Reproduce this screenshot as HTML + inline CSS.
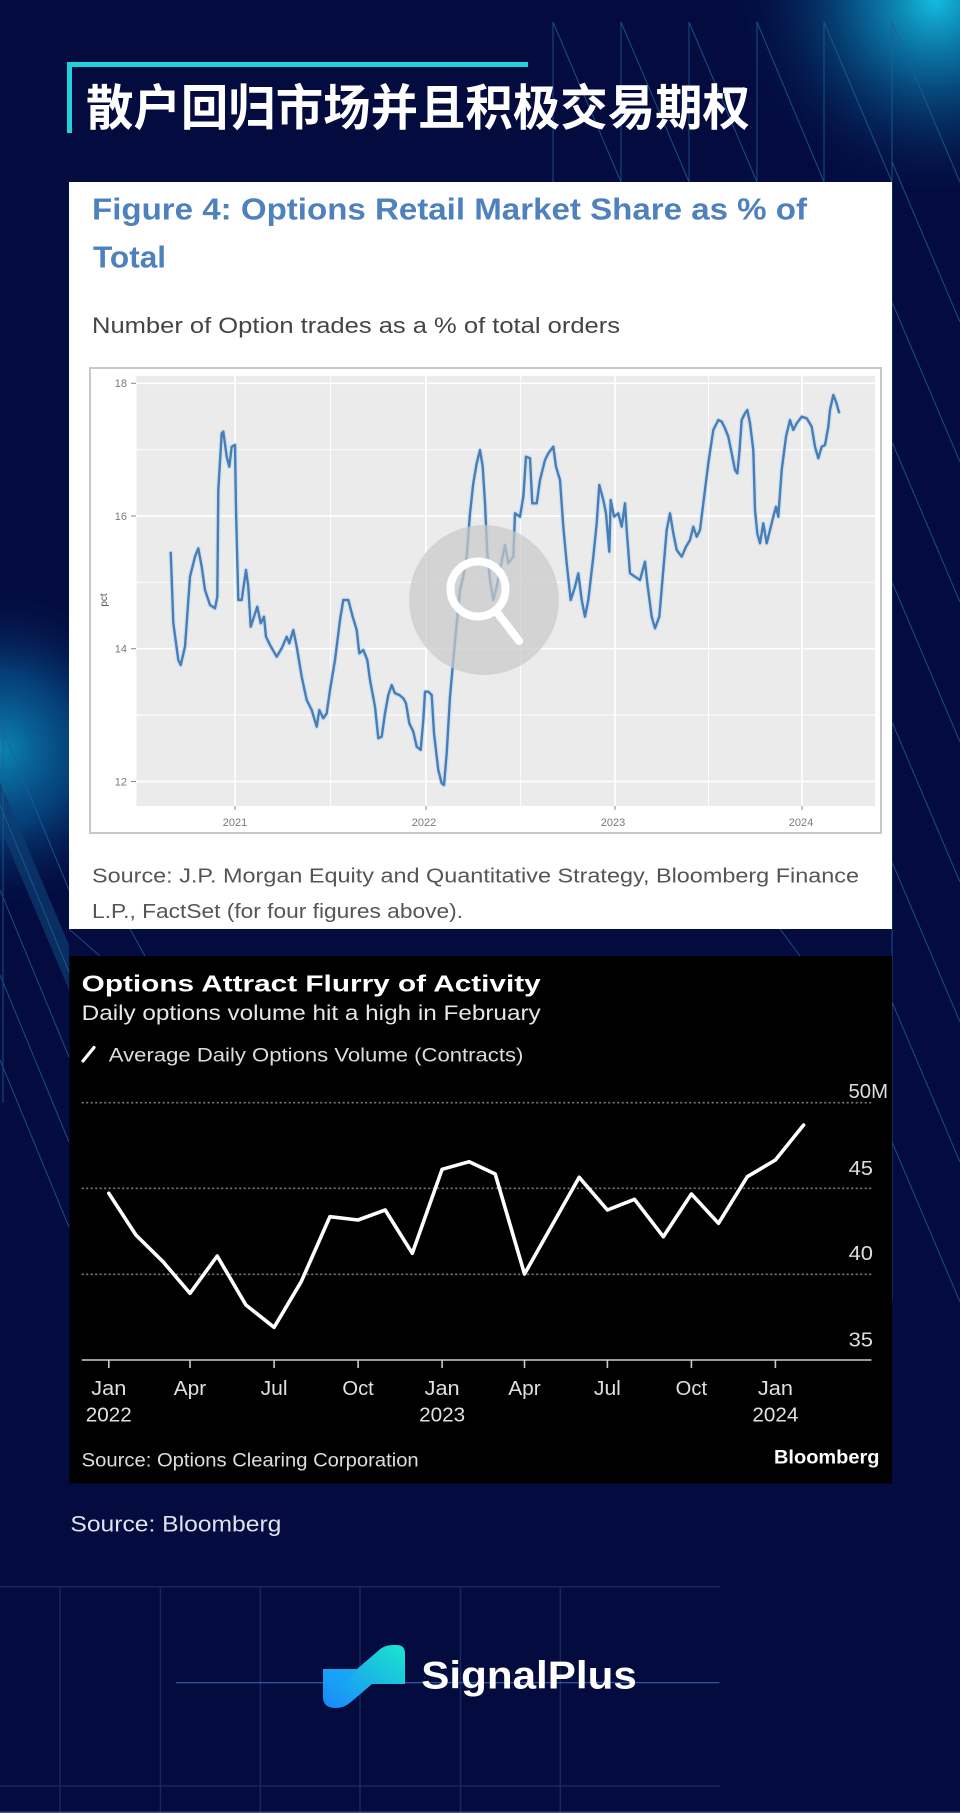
<!DOCTYPE html>
<html><head><meta charset="utf-8">
<style>
html,body{margin:0;padding:0;background:#030b3f;}
svg{display:block;}
</style></head>
<body>
<svg width="960" height="1813" viewBox="0 0 960 1813" xmlns="http://www.w3.org/2000/svg">
<defs>
<radialGradient id="gTR" cx="935" cy="0" r="210" gradientUnits="userSpaceOnUse">
<stop offset="0" stop-color="#14bde0" stop-opacity="1"/>
<stop offset="0.35" stop-color="#0a78aa" stop-opacity="0.75"/>
<stop offset="1" stop-color="#030b3f" stop-opacity="0"/>
</radialGradient>
<radialGradient id="gL" cx="0" cy="750" r="170" gradientUnits="userSpaceOnUse">
<stop offset="0" stop-color="#0b86b4" stop-opacity="1"/>
<stop offset="0.45" stop-color="#075490" stop-opacity="0.7"/>
<stop offset="1" stop-color="#030b3f" stop-opacity="0"/>
</radialGradient>
<linearGradient id="gLogo" x1="0" y1="1" x2="1" y2="0">
<stop offset="0" stop-color="#1a86ff"/>
<stop offset="1" stop-color="#1ae6cc"/>
</linearGradient>
</defs>

<!-- background -->
<rect x="0" y="0" width="960" height="1813" fill="#030b3f"/>
<rect x="0" y="0" width="960" height="420" fill="url(#gTR)"/>
<rect x="0" y="565" width="200" height="380" fill="url(#gL)"/>

<!-- decorative lines top -->
<g stroke="#1f5f96" stroke-width="1" opacity="0.8" fill="none">
<line x1="553" y1="22" x2="553" y2="182"/>
<line x1="621" y1="22" x2="621" y2="182"/>
<line x1="689" y1="22" x2="689" y2="182"/>
<line x1="757" y1="22" x2="757" y2="182"/>
<line x1="824" y1="22" x2="824" y2="182"/>
<line x1="892" y1="22" x2="892" y2="1300"/>
<line x1="553" y1="22" x2="621" y2="182"/>
<line x1="621" y1="22" x2="689" y2="182"/>
<line x1="689" y1="22" x2="757" y2="182"/>
<line x1="757" y1="22" x2="824" y2="182"/>
<line x1="824" y1="22" x2="892" y2="182"/>
<line x1="892" y1="22" x2="960" y2="182"/>
<line x1="892" y1="162" x2="960" y2="322"/>
<line x1="892" y1="302" x2="960" y2="462"/>
<line x1="892" y1="442" x2="960" y2="602"/>
<line x1="892" y1="582" x2="960" y2="742"/>
<line x1="892" y1="722" x2="960" y2="882"/>
<line x1="892" y1="862" x2="960" y2="1022"/>
<line x1="892" y1="1002" x2="960" y2="1162"/>
<line x1="892" y1="1142" x2="960" y2="1302"/>
</g>
<!-- decorative left -->
<polygon points="0,782 69,945 69,990 0,827" fill="#0d3d70" opacity="0.7"/>
<g stroke="#1f5f96" stroke-width="1" opacity="0.8" fill="none">
<line x1="3" y1="723" x2="3" y2="1103"/>
<line x1="0" y1="723" x2="69" y2="890"/>
<line x1="0" y1="805" x2="69" y2="972"/>
<line x1="0" y1="890" x2="69" y2="1057"/>
<line x1="0" y1="975" x2="69" y2="1142"/>
<line x1="0" y1="1060" x2="69" y2="1227"/>
<line x1="69" y1="929" x2="100" y2="956"/>
<line x1="130" y1="929" x2="145" y2="956"/>
<line x1="780" y1="929" x2="800" y2="956"/>
</g>

<!-- title -->
<rect x="67" y="62" width="461" height="5" fill="#22d2da"/>
<rect x="67" y="62" width="5" height="71" fill="#22d2da"/>
<text x="86" y="125" font-family="'Liberation Sans','Noto Sans CJK SC',sans-serif" font-size="49" font-weight="bold" fill="#ffffff" textLength="664" lengthAdjust="spacingAndGlyphs">散户回归市场并且积极交易期权</text>

<!-- white panel 1 -->
<rect x="69" y="182" width="823" height="747" fill="#ffffff"/>
<text x="92" y="219.5" font-family="'Liberation Sans',sans-serif" font-size="31" font-weight="bold" fill="#4f81bd" textLength="715" lengthAdjust="spacingAndGlyphs">Figure 4: Options Retail Market Share as % of</text>
<text x="93" y="267.5" font-family="'Liberation Sans',sans-serif" font-size="31" font-weight="bold" fill="#4f81bd" textLength="73" lengthAdjust="spacingAndGlyphs">Total</text>
<text x="92" y="333" font-family="'Liberation Sans',sans-serif" font-size="22.5" fill="#444444" textLength="528" lengthAdjust="spacingAndGlyphs">Number of Option trades as a % of total orders</text>

<!-- chart 1 -->
<rect x="90" y="368" width="791" height="465" fill="#ffffff" stroke="#c8c8c8" stroke-width="2"/>
<rect x="136.5" y="376" width="738.5" height="430" fill="#ebebeb"/>
<g stroke="#ffffff" fill="none">
<line x1="136.5" y1="449.7" x2="875" y2="449.7" stroke-width="0.9"/>
<line x1="136.5" y1="582.3" x2="875" y2="582.3" stroke-width="0.9"/>
<line x1="136.5" y1="715" x2="875" y2="715" stroke-width="0.9"/>
<line x1="330.5" y1="376" x2="330.5" y2="806" stroke-width="0.9"/>
<line x1="520.5" y1="376" x2="520.5" y2="806" stroke-width="0.9"/>
<line x1="708.5" y1="376" x2="708.5" y2="806" stroke-width="0.9"/>
<line x1="136.5" y1="383.3" x2="875" y2="383.3" stroke-width="1.7"/>
<line x1="136.5" y1="516" x2="875" y2="516" stroke-width="1.7"/>
<line x1="136.5" y1="648.7" x2="875" y2="648.7" stroke-width="1.7"/>
<line x1="136.5" y1="781.5" x2="875" y2="781.5" stroke-width="1.7"/>
<line x1="235" y1="376" x2="235" y2="806" stroke-width="1.7"/>
<line x1="426" y1="376" x2="426" y2="806" stroke-width="1.7"/>
<line x1="615" y1="376" x2="615" y2="806" stroke-width="1.7"/>
<line x1="802" y1="376" x2="802" y2="806" stroke-width="1.7"/>
</g>
<g stroke="#888" stroke-width="1">
<line x1="131" y1="383.3" x2="136" y2="383.3"/>
<line x1="131" y1="516" x2="136" y2="516"/>
<line x1="131" y1="648.7" x2="136" y2="648.7"/>
<line x1="131" y1="781.5" x2="136" y2="781.5"/>
<line x1="235" y1="806" x2="235" y2="810"/>
<line x1="426" y1="806" x2="426" y2="810"/>
<line x1="615" y1="806" x2="615" y2="810"/>
<line x1="802" y1="806" x2="802" y2="810"/>
</g>
<g font-family="'Liberation Sans',sans-serif" font-size="11" fill="#7a7a7a">
<text x="127" y="387" text-anchor="end">18</text>
<text x="127" y="520" text-anchor="end">16</text>
<text x="127" y="652.5" text-anchor="end">14</text>
<text x="127" y="785.5" text-anchor="end">12</text>
<text x="235" y="826" text-anchor="middle">2021</text>
<text x="424" y="826" text-anchor="middle">2022</text>
<text x="613" y="826" text-anchor="middle">2023</text>
<text x="801" y="826" text-anchor="middle">2024</text>
<text x="107" y="600" text-anchor="middle" font-size="10" fill="#555" transform="rotate(-90 107 600)">pct</text>
</g>
<polyline fill="none" stroke="#c5def4" stroke-width="5" stroke-linejoin="round" opacity="0.7" points="170.7,551.7 173.3,623 178.3,660 180.7,665 185,646.7 190,576.7 195,556.7 198.3,548.3 201.7,566.7 205,590 210,605 215,608.3 217.3,596.7 218.3,490 221.7,433.3 223.3,431.7 226.7,456.7 229.3,466.7 231.7,446.7 235,445 236,510 238.3,600 241.7,600 246,570 248.3,586.7 250.7,626.7 254,616.7 257.3,606.7 260.7,623.3 264,616.7 266,636.7 270,645 276.7,656.7 281.7,648.3 286.7,636.7 289.3,643.3 293.3,630 296.7,646.7 301.7,676.7 306.7,700 311.7,710 316.7,726.7 319.3,710 323.3,718.3 326.7,713.3 330,690 335,660 340,620 343.3,600 348.3,600 352.7,616.7 356.7,630 359.3,653.3 363.3,650 367.3,660 370,680 375,706.7 378.3,738.3 381.7,736.7 385,713.3 388.3,695 391.7,685 395,693.3 399.3,695 403.3,698.3 406,703.3 409.3,723.3 413.3,731.7 416.7,746.7 420.7,750 423.3,720 425,691.7 428.3,691.7 431.7,695 434,733.3 438.3,770 441.7,783.3 444,785 446.7,753.3 450,696.7 453.3,660 456.7,623.3 460,590 463.3,576.7 466.7,556.7 470,513.3 473.3,483.3 476.7,463.3 480,450 482.7,466.7 485,503.3 487.3,553.3 490,580 493.3,600 496.7,586.7 500,570 505,545 508.3,563.3 513.3,556.7 515,513.3 520,516.7 523.3,496.7 526,456.7 530,458.3 532.3,503.3 536.7,503.3 540,480 545,460 548.3,453.3 553.3,446.7 556,466.7 560,480 563.3,526.7 566.7,563.3 570.7,600 575,586.7 578.3,573.3 581.7,600 585,616.7 588.3,600 593.3,556.7 596.7,523.3 599.3,485 603.3,500 606,513.3 609.3,551.7 610.7,500 614,516.7 618.3,513.3 621.7,526.7 625,503.3 626.7,530 630,573.3 635,576.7 640,580 645,561.7 647.3,583.3 651.7,616.7 655,628.3 659.3,616.7 663.3,570 666.7,530 670,513.3 673.3,533.3 676.7,550 681.7,556.7 686,546.7 690,540 693.3,526.7 696.7,536.7 700,530 703.3,503.3 708.3,463.3 713.3,430 718.3,420 721.7,421.7 725,428.3 728.3,436.7 731.7,453.3 735,470 737.3,473.3 739.3,453.3 741.7,420 745,413.3 747.3,410 750,423.3 753.3,450 755,510 757.3,533.3 760,543.3 763.3,523.3 766.7,543.3 770,530 773.3,516.7 776,506.7 778.3,516.7 781.7,470 786,436.7 790,420 793.3,430 796.7,423.3 801.7,416.7 806.7,418.3 811.7,426.7 815,446.7 818.3,458.3 821.7,446.7 825,445 828.3,426.7 830,410 833.3,395 836,401.7 839.3,413.3"/>
<polyline fill="none" stroke="#4a7db3" stroke-width="2.4" stroke-linejoin="round" points="170.7,551.7 173.3,623 178.3,660 180.7,665 185,646.7 190,576.7 195,556.7 198.3,548.3 201.7,566.7 205,590 210,605 215,608.3 217.3,596.7 218.3,490 221.7,433.3 223.3,431.7 226.7,456.7 229.3,466.7 231.7,446.7 235,445 236,510 238.3,600 241.7,600 246,570 248.3,586.7 250.7,626.7 254,616.7 257.3,606.7 260.7,623.3 264,616.7 266,636.7 270,645 276.7,656.7 281.7,648.3 286.7,636.7 289.3,643.3 293.3,630 296.7,646.7 301.7,676.7 306.7,700 311.7,710 316.7,726.7 319.3,710 323.3,718.3 326.7,713.3 330,690 335,660 340,620 343.3,600 348.3,600 352.7,616.7 356.7,630 359.3,653.3 363.3,650 367.3,660 370,680 375,706.7 378.3,738.3 381.7,736.7 385,713.3 388.3,695 391.7,685 395,693.3 399.3,695 403.3,698.3 406,703.3 409.3,723.3 413.3,731.7 416.7,746.7 420.7,750 423.3,720 425,691.7 428.3,691.7 431.7,695 434,733.3 438.3,770 441.7,783.3 444,785 446.7,753.3 450,696.7 453.3,660 456.7,623.3 460,590 463.3,576.7 466.7,556.7 470,513.3 473.3,483.3 476.7,463.3 480,450 482.7,466.7 485,503.3 487.3,553.3 490,580 493.3,600 496.7,586.7 500,570 505,545 508.3,563.3 513.3,556.7 515,513.3 520,516.7 523.3,496.7 526,456.7 530,458.3 532.3,503.3 536.7,503.3 540,480 545,460 548.3,453.3 553.3,446.7 556,466.7 560,480 563.3,526.7 566.7,563.3 570.7,600 575,586.7 578.3,573.3 581.7,600 585,616.7 588.3,600 593.3,556.7 596.7,523.3 599.3,485 603.3,500 606,513.3 609.3,551.7 610.7,500 614,516.7 618.3,513.3 621.7,526.7 625,503.3 626.7,530 630,573.3 635,576.7 640,580 645,561.7 647.3,583.3 651.7,616.7 655,628.3 659.3,616.7 663.3,570 666.7,530 670,513.3 673.3,533.3 676.7,550 681.7,556.7 686,546.7 690,540 693.3,526.7 696.7,536.7 700,530 703.3,503.3 708.3,463.3 713.3,430 718.3,420 721.7,421.7 725,428.3 728.3,436.7 731.7,453.3 735,470 737.3,473.3 739.3,453.3 741.7,420 745,413.3 747.3,410 750,423.3 753.3,450 755,510 757.3,533.3 760,543.3 763.3,523.3 766.7,543.3 770,530 773.3,516.7 776,506.7 778.3,516.7 781.7,470 786,436.7 790,420 793.3,430 796.7,423.3 801.7,416.7 806.7,418.3 811.7,426.7 815,446.7 818.3,458.3 821.7,446.7 825,445 828.3,426.7 830,410 833.3,395 836,401.7 839.3,413.3"/>
<!-- magnifier overlay -->
<circle cx="484" cy="600" r="75" fill="#c9c9c9" opacity="0.72"/>
<circle cx="478" cy="589" r="27.5" fill="none" stroke="#ffffff" stroke-width="8"/>
<line x1="496" y1="611" x2="519" y2="641" stroke="#ffffff" stroke-width="8" stroke-linecap="round"/>

<text x="92" y="882.5" font-family="'Liberation Sans',sans-serif" font-size="20" fill="#555555" textLength="767" lengthAdjust="spacingAndGlyphs">Source: J.P. Morgan Equity and Quantitative Strategy, Bloomberg Finance</text>
<text x="92" y="918" font-family="'Liberation Sans',sans-serif" font-size="20" fill="#555555" textLength="371" lengthAdjust="spacingAndGlyphs">L.P., FactSet (for four figures above).</text>

<!-- Bloomberg chart -->
<rect x="69.5" y="956" width="822.5" height="527.5" fill="#000000"/>
<g font-family="'Liberation Sans Narrow','Liberation Sans',sans-serif">
<text x="81.7" y="991.5" font-size="23" font-weight="bold" fill="#ffffff" textLength="459" lengthAdjust="spacingAndGlyphs">Options Attract Flurry of Activity</text>
<text x="81.7" y="1020" font-size="21" fill="#e6e6e6" textLength="459" lengthAdjust="spacingAndGlyphs">Daily options volume hit a high in February</text>
<line x1="83" y1="1061" x2="94" y2="1047.5" stroke="#ffffff" stroke-width="3.2" stroke-linecap="round"/>
<text x="108.8" y="1061.5" font-size="19.5" fill="#dddddd" textLength="414.6" lengthAdjust="spacingAndGlyphs">Average Daily Options Volume (Contracts)</text>
<text x="888" y="1098" font-size="20" fill="#dddddd" text-anchor="end" textLength="39.5" lengthAdjust="spacingAndGlyphs">50M</text>
<text x="873" y="1175" font-size="20" fill="#dddddd" text-anchor="end" textLength="24.4" lengthAdjust="spacingAndGlyphs">45</text>
<text x="873" y="1260" font-size="20" fill="#dddddd" text-anchor="end" textLength="24.4" lengthAdjust="spacingAndGlyphs">40</text>
<text x="873" y="1346.7" font-size="20" fill="#dddddd" text-anchor="end" textLength="24.4" lengthAdjust="spacingAndGlyphs">35</text>
</g>
<g stroke="#7a7a7a" stroke-width="1.6" stroke-dasharray="2,2.5">
<line x1="81.7" y1="1102.7" x2="871.4" y2="1102.7"/>
<line x1="81.7" y1="1188.3" x2="871.4" y2="1188.3"/>
<line x1="81.7" y1="1274.3" x2="871.4" y2="1274.3"/>
</g>
<g stroke="#cccccc" stroke-width="1.6">
<line x1="81.7" y1="1360" x2="871.4" y2="1360"/>
<line x1="108.8" y1="1360" x2="108.8" y2="1368"/>
<line x1="190" y1="1360" x2="190" y2="1368"/>
<line x1="274.1" y1="1360" x2="274.1" y2="1368"/>
<line x1="358.1" y1="1360" x2="358.1" y2="1368"/>
<line x1="442.1" y1="1360" x2="442.1" y2="1368"/>
<line x1="524.5" y1="1360" x2="524.5" y2="1368"/>
<line x1="607.4" y1="1360" x2="607.4" y2="1368"/>
<line x1="691.4" y1="1360" x2="691.4" y2="1368"/>
<line x1="775.4" y1="1360" x2="775.4" y2="1368"/>
</g>
<g font-family="'Liberation Sans Narrow','Liberation Sans',sans-serif" font-size="20" fill="#e0e0e0" text-anchor="middle">
<text x="108.8" y="1395" textLength="35" lengthAdjust="spacingAndGlyphs">Jan</text>
<text x="190" y="1395" textLength="32.5" lengthAdjust="spacingAndGlyphs">Apr</text>
<text x="274.1" y="1395" textLength="27" lengthAdjust="spacingAndGlyphs">Jul</text>
<text x="358.1" y="1395" textLength="31.4" lengthAdjust="spacingAndGlyphs">Oct</text>
<text x="442.1" y="1395" textLength="35" lengthAdjust="spacingAndGlyphs">Jan</text>
<text x="524.5" y="1395" textLength="32.5" lengthAdjust="spacingAndGlyphs">Apr</text>
<text x="607.4" y="1395" textLength="27" lengthAdjust="spacingAndGlyphs">Jul</text>
<text x="691.4" y="1395" textLength="31.4" lengthAdjust="spacingAndGlyphs">Oct</text>
<text x="775.4" y="1395" textLength="35" lengthAdjust="spacingAndGlyphs">Jan</text>
<text x="108.8" y="1421.7" textLength="46" lengthAdjust="spacingAndGlyphs">2022</text>
<text x="442.1" y="1421.7" textLength="46" lengthAdjust="spacingAndGlyphs">2023</text>
<text x="775.4" y="1421.7" textLength="46" lengthAdjust="spacingAndGlyphs">2024</text>
</g>
<polyline fill="none" stroke="#ffffff" stroke-width="3.6" stroke-linejoin="round" stroke-linecap="round" points="108.8,1193.3 135.9,1235 163,1261.7 190,1293.3 217.2,1256 245.9,1305 274.1,1327.3 301.2,1281.7 329.9,1216.7 358.1,1220 385.2,1210 412.3,1253.3 442.1,1169.3 469.2,1161.7 495.2,1174 524.5,1274 553.2,1223.3 579.2,1177.3 607.4,1210 634.5,1199.3 663.3,1236.7 691.4,1194 718.5,1223.3 747.3,1176.7 775.4,1160 803.6,1125"/>
<g font-family="'Liberation Sans Narrow','Liberation Sans',sans-serif">
<text x="81.7" y="1466.7" font-size="19" fill="#dddddd" textLength="337" lengthAdjust="spacingAndGlyphs">Source: Options Clearing Corporation</text>
<text x="879.5" y="1463.3" font-size="19" font-weight="bold" fill="#ffffff" text-anchor="end" textLength="105.5" lengthAdjust="spacingAndGlyphs">Bloomberg</text>
</g>

<!-- source -->
<text x="70.4" y="1531.7" font-family="'Liberation Sans Narrow','Liberation Sans',sans-serif" font-size="22.5" fill="#dfe3f0" textLength="211" lengthAdjust="spacingAndGlyphs">Source: Bloomberg</text>

<!-- bottom grid -->
<g stroke="#1b2562" stroke-width="1.5">
<line x1="0" y1="1586.7" x2="719.5" y2="1586.7"/>
<line x1="0" y1="1786" x2="719.5" y2="1786"/>
<line x1="60" y1="1586.7" x2="60" y2="1813"/>
<line x1="160.4" y1="1586.7" x2="160.4" y2="1813"/>
<line x1="260.3" y1="1586.7" x2="260.3" y2="1813"/>
<line x1="360" y1="1586.7" x2="360" y2="1813"/>
<line x1="460.5" y1="1586.7" x2="460.5" y2="1813"/>
<line x1="560.3" y1="1586.7" x2="560.3" y2="1813"/>
</g>
<line x1="176" y1="1682.7" x2="719.5" y2="1682.7" stroke="#3562aa" stroke-width="1.2"/>
<line x1="0" y1="1812.3" x2="960" y2="1812.3" stroke="#4a5488" stroke-width="1.4"/>

<!-- logo -->
<path d="M323,1669 L357,1669 L378,1651 Q384,1645 393,1645 L397,1645 Q405,1645 405,1654 L405,1684 L372,1684 L351,1702 Q344,1708 336,1708 Q323,1708 323,1697 Z" fill="url(#gLogo)"/>
<path d="M323,1669 L357,1669 L345,1684 L323,1684 Z" fill="#1a9cff" opacity="0.55"/>
<text x="421.3" y="1688.3" font-family="'Liberation Sans',sans-serif" font-size="39" font-weight="bold" fill="#ffffff" textLength="215.5" lengthAdjust="spacingAndGlyphs">SignalPlus</text>
</svg>
</body></html>
